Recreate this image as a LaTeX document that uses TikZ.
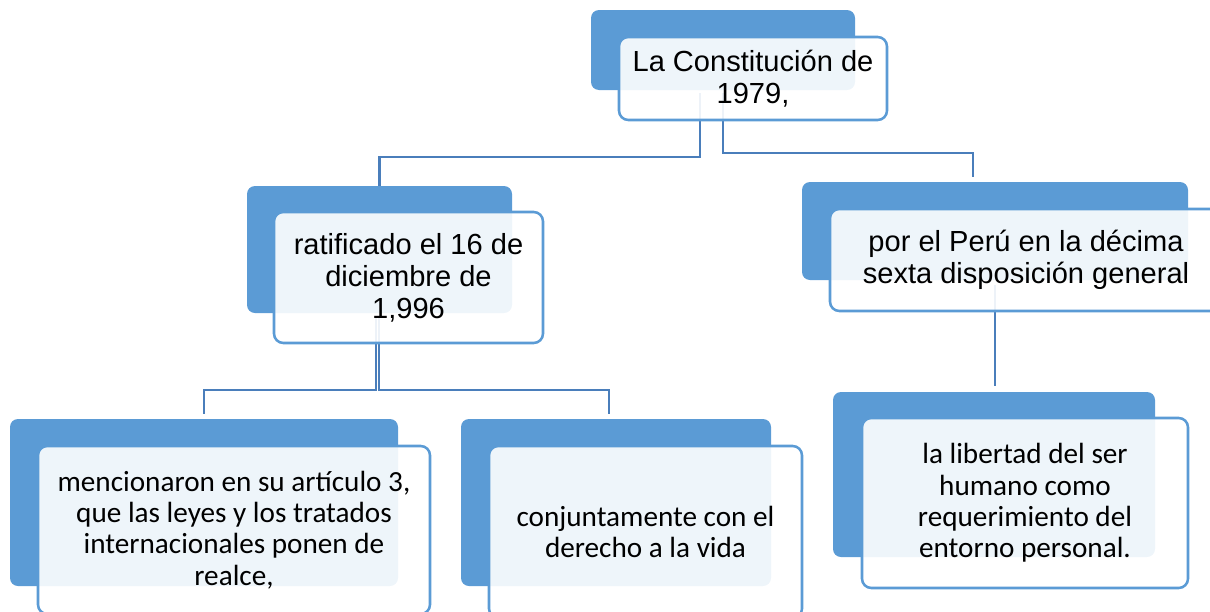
\documentclass[tikz,border=0pt]{standalone}
\usepackage{fontspec}
\setmainfont{Liberation Sans}
\newfontfamily\calib{Carlito}
\usetikzlibrary{fit,backgrounds}
\definecolor{bblue}{HTML}{5B9BD5}
\definecolor{lblue}{HTML}{4A7EBB}
\begin{document}
\begin{tikzpicture}[x=0.75pt,y=-0.75pt,
  backbox/.style={fill=bblue, draw=none, rounded corners=6pt, inner sep=0pt},
  frontbox/.style={fill=white, fill opacity=0.9, draw=bblue, line width=1.9pt, rounded corners=7pt, inner sep=0pt},
  conn/.style={draw=lblue, line width=2.1pt},
  arialtxt/.style={align=center, inner sep=0pt, text=black, font=\fontsize{21.8}{24}\selectfont},
  calibtxt/.style={align=center, inner sep=0pt, text=black, font=\calib\fontsize{21.9}{23.4}\selectfont}]
\useasboundingbox (0,0) rectangle (1210,611);
\clip (0,0) rectangle (1210,611);

% box 1
\node[backbox, fit={(591,10) (855,90)}] (b1) {};
\node[frontbox, fit={(619,37) (887,120)}] (f1) {};
\node[arialtxt] (t1) at (f1.center) {La Constitución de\\1979,};
% box 2
\node[backbox, fit={(247,186) (512,313)}] (b2) {};
\node[frontbox, fit={(274,212) (543,343)}] (f2) {};
\node[arialtxt] (t2) at (f2.center) {ratificado el 16 de\\diciembre de\\1,996};
% box 3
\node[backbox, fit={(802,182) (1188,280)}] (b3) {};
\node[frontbox, fit={(830,209) (1222,311)}] (f3) {};
\node[arialtxt] (t3) at (f3.center) {por el Perú en la décima\\sexta disposición general};
% box 4
\node[backbox, fit={(10,419) (398,586)}] (b4) {};
\node[frontbox, fit={(38,446) (430,614)}] (f4) {};
\node[calibtxt] (t4) at (f4.center) {mencionaron en su artículo 3,\\que las leyes y los tratados\\internacionales ponen de\\realce,};
% box 5
\node[backbox, fit={(461,419) (771,586)}] (b5) {};
\node[frontbox, fit={(489,446) (802,618)}] (f5) {};
\node[calibtxt] (t5) at (f5.center) {conjuntamente con el\\derecho a la vida};
% box 6
\node[backbox, fit={(833,392) (1155,557)}] (b6) {};
\node[frontbox, fit={(862,418) (1188,588)}] (f6) {};
\node[calibtxt] (t6) at (f6.center) {la libertad del ser\\humano como\\requerimiento del\\entorno personal.};

% connectors
\coordinate (j1) at (700,93);
\coordinate (j2) at (723,93);
\coordinate (e3) at (973,177);
\coordinate (j3) at (376,316);
\coordinate (j4) at (379,316);
\coordinate (e4) at (204,414);
\coordinate (e5) at (609,414);
\coordinate (j5) at (995,285);
\coordinate (e6) at (995,386);
\begin{scope}[on background layer]
\draw[conn] (j1) -- ++(0,64) -| (b2.north);
\draw[conn] (j2) -- ++(0,60) -| (e3);
\draw[conn] (j3) -- ++(0,74) -| (e4);
\draw[conn] (j4) -- ++(0,74) -| (e5);
\draw[conn] (j5) -- (e6);
\end{scope}
\end{tikzpicture}
\end{document}
